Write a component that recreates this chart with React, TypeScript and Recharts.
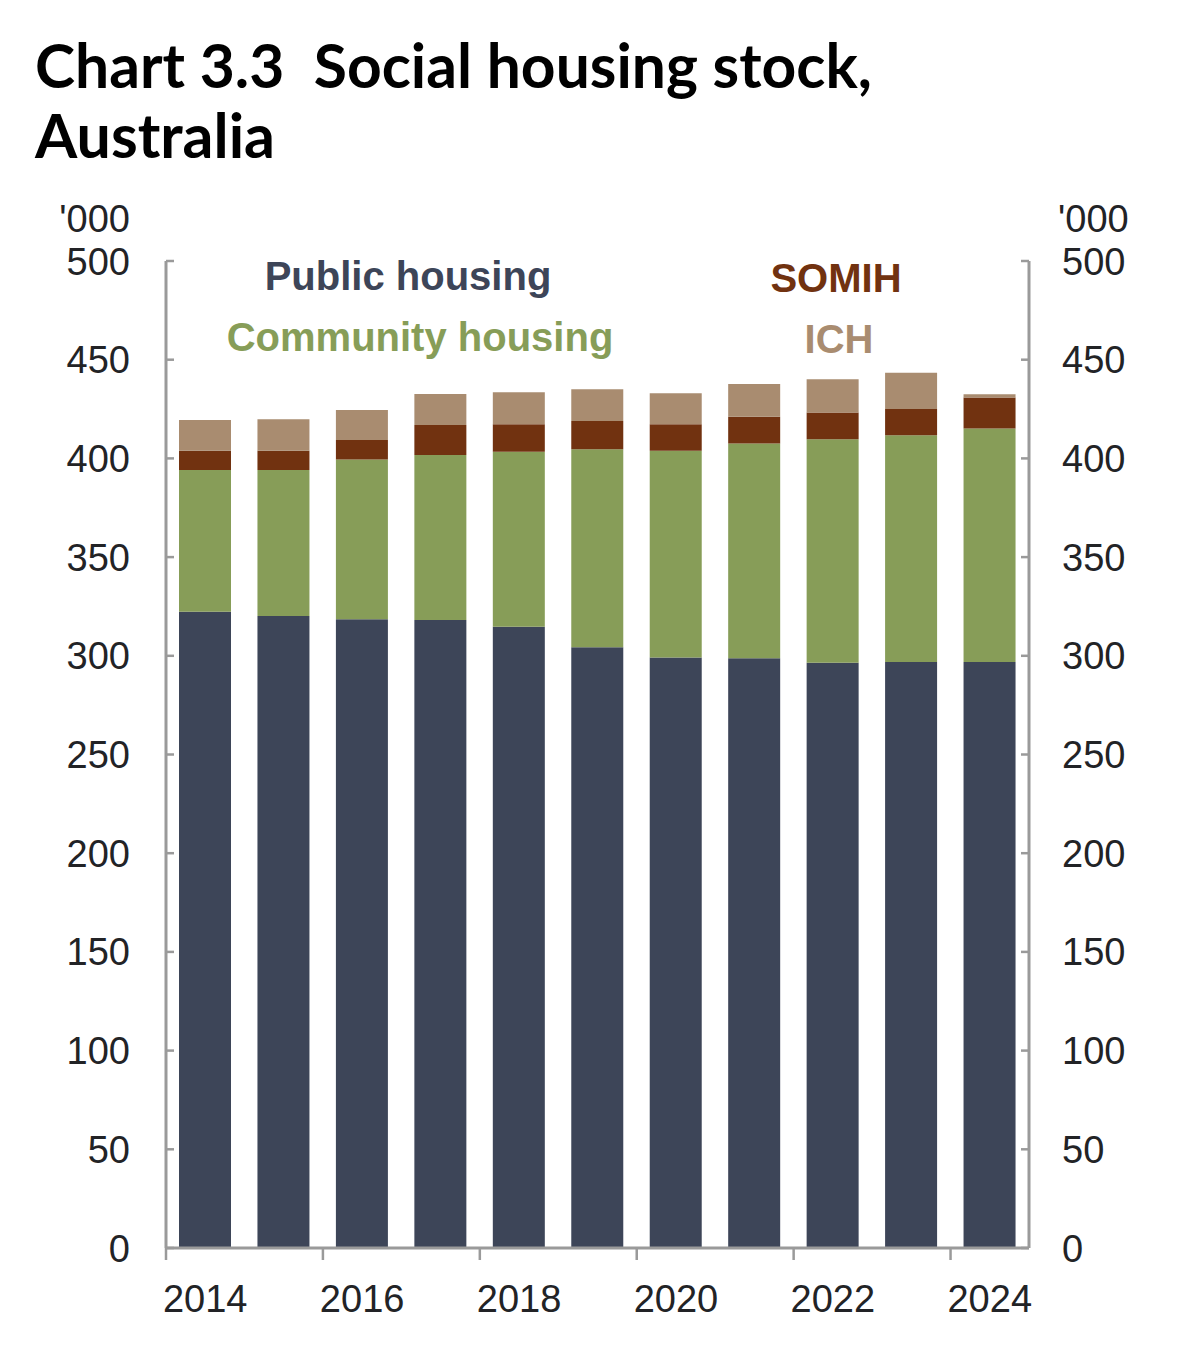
import { BarChart, Bar, XAxis, YAxis } from 'recharts'

// Values in '000 dwellings
const YEARS = ['2014', '2015', '2016', '2017', '2018', '2019', '2020', '2021', '2022', '2023', '2024']
const PUBLIC_HOUSING = [322.3, 320.2, 318.5, 318.1, 314.7, 304.3, 299.2, 298.7, 296.5, 296.9, 296.9]
const COMMUNITY_HOUSING = [71.8, 73.9, 81.0, 83.6, 88.7, 100.3, 104.7, 108.9, 113.2, 114.8, 118.3]
const SOMIH = [9.8, 9.8, 9.8, 15.2, 13.9, 14.3, 13.4, 13.5, 13.5, 13.3, 15.6]
const ICH = [15.6, 15.9, 15.2, 15.7, 16.2, 16.1, 15.7, 16.6, 16.9, 18.4, 1.7]
const Y_TICKS = [0, 50, 100, 150, 200, 250, 300, 350, 400, 450, 500]

const data = YEARS.map((year, i) => ({
  year,
  publicHousing: PUBLIC_HOUSING[i],
  communityHousing: COMMUNITY_HOUSING[i],
  somih: SOMIH[i],
  ich: ICH[i],
}))

const W = 1194
const H = 1360
const PLOT_LEFT = 166
const PLOT_RIGHT = 1029
const PLOT_TOP = 261
const PLOT_BOTTOM = 1248
const BAND = (PLOT_RIGHT - PLOT_LEFT) / YEARS.length

const AXIS = '#9a9a9a'
const TEXT = '#222326'
const SANS = '"Liberation Sans", Arial, sans-serif'

const C_PUBLIC = '#3d4558'
const C_COMMUNITY = '#879d58'
const C_SOMIH = '#713210'
const C_ICH = '#a98c70'

// one renderer for both value axes: inward tick marks, labels outside the frame
function ValueTick({ y, payload }: { y: number; payload: { value: number } }) {
  return (
    <g>
      <line x1={PLOT_LEFT} x2={PLOT_LEFT + 8} y1={y} y2={y} stroke={AXIS} strokeWidth={2.5} />
      <line x1={PLOT_RIGHT - 8} x2={PLOT_RIGHT} y1={y} y2={y} stroke={AXIS} strokeWidth={2.5} />
      <text x={130} y={y + 13.5} textAnchor="end" fontSize={38} fontFamily={SANS} fill={TEXT}>
        {payload.value}
      </text>
      <text x={1062} y={y + 13.5} textAnchor="start" fontSize={38} fontFamily={SANS} fill={TEXT}>
        {payload.value}
      </text>
    </g>
  )
}

// label sits under the bar, tick mark on the category boundary to its left
function YearTick({ x, payload }: { x: number; payload: { value: string } }) {
  const bx = x - BAND / 2
  return (
    <g>
      <line x1={bx} x2={bx} y1={PLOT_BOTTOM} y2={PLOT_BOTTOM + 12} stroke={AXIS} strokeWidth={2.5} />
      <text x={x} y={1312} textAnchor="middle" fontSize={38} fontFamily={SANS} fill={TEXT}>
        {payload.value}
      </text>
    </g>
  )
}

export default function App() {
  return (
    <div style={{ position: 'relative', margin: -8, width: W, height: H, background: '#fff' }}>
      <BarChart
        width={W}
        height={H}
        data={data}
        margin={{ top: PLOT_TOP, right: 0, bottom: 0, left: 0 }}
        barSize={52}
      >
        <XAxis
          dataKey="year"
          interval={1}
          height={H - PLOT_BOTTOM}
          tickLine={false}
          axisLine={{ stroke: AXIS, strokeWidth: 3 }}
          tick={(p: any) => <YearTick key={p.index} x={p.x} payload={p.payload} />}
        />
        <YAxis
          yAxisId="left"
          orientation="left"
          width={PLOT_LEFT}
          domain={[0, 500]}
          ticks={Y_TICKS}
          interval={0}
          tickLine={false}
          axisLine={{ stroke: AXIS, strokeWidth: 3 }}
          tick={(p: any) => <ValueTick key={p.index} y={p.y} payload={p.payload} />}
        />
        <YAxis
          yAxisId="right"
          orientation="right"
          width={W - PLOT_RIGHT}
          domain={[0, 500]}
          tick={false}
          tickLine={false}
          axisLine={{ stroke: AXIS, strokeWidth: 3 }}
        />
        <Bar yAxisId="left" dataKey="publicHousing" stackId="s" fill={C_PUBLIC} isAnimationActive={false} />
        <Bar yAxisId="left" dataKey="communityHousing" stackId="s" fill={C_COMMUNITY} isAnimationActive={false} />
        <Bar yAxisId="left" dataKey="somih" stackId="s" fill={C_SOMIH} isAnimationActive={false} />
        <Bar yAxisId="left" dataKey="ich" stackId="s" fill={C_ICH} isAnimationActive={false} />
      </BarChart>

      {/* title, unit labels and in-plot legend */}
      <svg
        width={W}
        height={H}
        style={{ position: 'absolute', left: 0, top: 0, pointerEvents: 'none' }}
      >
        <g fontFamily='Lato, "Open Sans", sans-serif' fontWeight={700} fontSize={61} fill="#000">
          <text x={35} y={88} textLength={837} lengthAdjust="spacingAndGlyphs">
            {'Chart 3.3\u00A0\u00A0Social housing stock,'}
          </text>
          <text x={35} y={158} textLength={240} lengthAdjust="spacingAndGlyphs">
            Australia
          </text>
        </g>
        <g fontFamily={SANS} fontSize={38} fill={TEXT}>
          <text x={130} y={232} textAnchor="end">'000</text>
          <text x={1058} y={232} textAnchor="start">'000</text>
        </g>
        <g fontFamily={SANS} fontSize={40} fontWeight={700} textAnchor="middle">
          <text x={408} y={290} fill={C_PUBLIC}>Public housing</text>
          <text x={420} y={351} fill={C_COMMUNITY}>Community housing</text>
          <text x={836} y={292} fill={C_SOMIH}>SOMIH</text>
          <text x={839} y={353} fill={C_ICH}>ICH</text>
        </g>
      </svg>
    </div>
  )
}
